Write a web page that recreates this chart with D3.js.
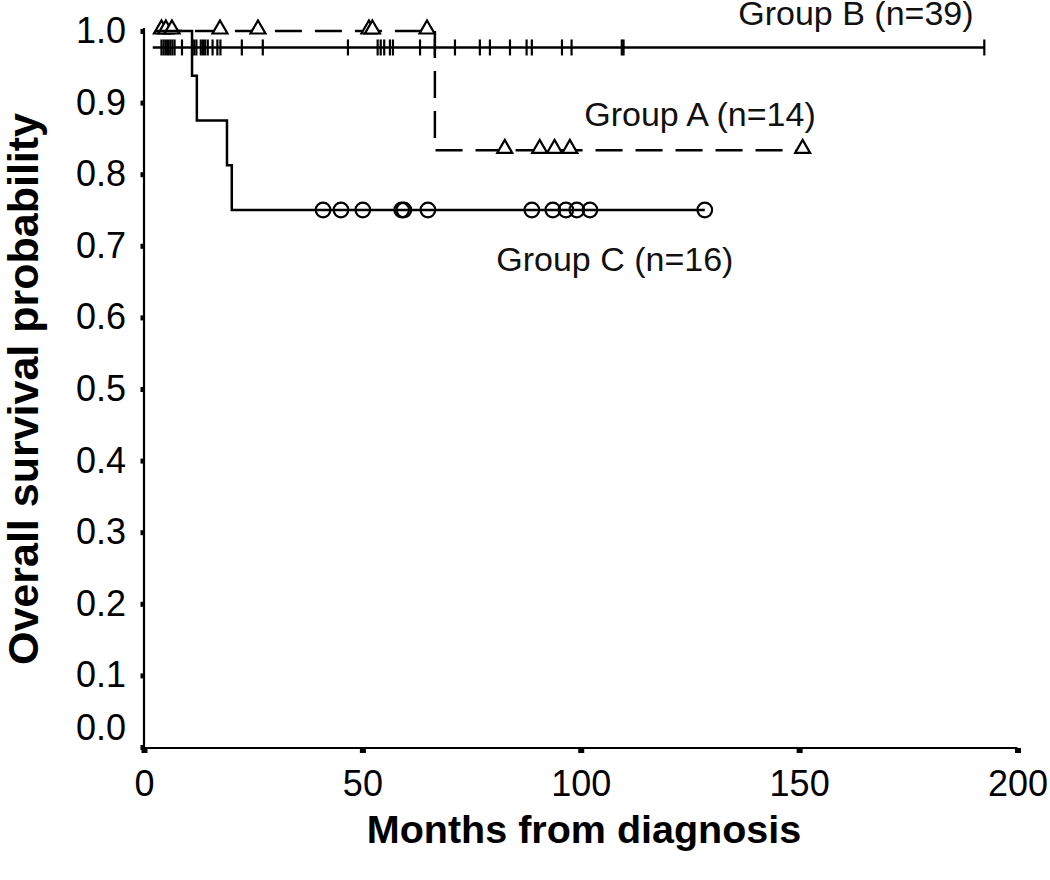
<!DOCTYPE html>
<html>
<head>
<meta charset="utf-8">
<script src="https://cdn.jsdelivr.net/npm/d3@7/dist/d3.min.js"></script>
<style>
  html, body { margin: 0; padding: 0; background: #fff; }
  svg { display: block; font-family: "Liberation Sans", Arial, sans-serif; }
</style>
</head>
<body>
<svg id="chart" width="1050" height="880"></svg>
<script>
// ---- data (months, survival probability) ----
const xTicks = [0, 50, 100, 150, 200];
const yTicks = [0, 0.1, 0.2, 0.3, 0.4, 0.5, 0.6, 0.7, 0.8, 0.9, 1.0];

// Group A (n=14): one death, triangles = censored
const groupAStart = 2.5;
const groupAEnd = 150.8;
const groupADeaths = [{t: 66.6, s: 0.8333}];
const groupACensored = [4.0, 5.0, 6.4, 17.4, 26.1, 51.5, 52.3, 64.8, 82.6, 90.6, 94.0, 97.5, 150.8];

// Group B (n=39): no deaths, tick marks = censored (drawn just below 1.0)
const groupBLevel = 0.977;
const groupBStart = 2.0;
const groupBEnd = 192.4;
const groupBCensored = [4.0, 4.5, 5.0, 5.5, 6.0, 6.5, 7.0, 8.7, 11.0, 11.5, 12.0, 13.0, 13.5, 14.0, 14.6,
  15.7, 16.8, 17.5, 22.4, 27.2, 46.7, 53.5, 54.2, 55.0, 56.3, 57.0, 63.2, 66.6, 71.2, 76.9, 79.2,
  83.8, 87.6, 88.8, 95.7, 97.9, 109.4, 109.8, 192.4];

// Group C (n=16): four deaths, circles = censored
const groupCStart = 2.5;
const groupCEnd = 128.4;
const groupCDeaths = [{t: 11.0, s: 0.9375}, {t: 12.1, s: 0.875}, {t: 19.0, s: 0.8125}, {t: 20.1, s: 0.75}];
const groupCCensored = [41.0, 45.1, 50.1, 59.0, 59.5, 65.0, 88.8, 93.6, 96.6, 99.1, 102.1, 128.4];

const labels = [
  {text: "Group B (n=39)", t: 163, s: 1.0, dy: -6},
  {text: "Group A (n=14)", t: 127.3, s: 0.9, dy: 23},
  {text: "Group C (n=16)", t: 107.8, s: 0.7, dy: 25}
];

// ---- layout ----
const svg = d3.select("#chart");
const x = d3.scaleLinear().domain([0, 200]).range([144, 1017.5]);
const y = d3.scaleLinear().domain([0, 1]).range([747, 31]);

function kmPoints(start, end, level, deaths) {
  const pts = [[start, level]];
  let cur = level;
  deaths.forEach(d => { pts.push([d.t, cur]); pts.push([d.t, d.s]); cur = d.s; });
  pts.push([end, cur]);
  return pts;
}
function levelAt(deaths, start, t) {
  let s = start;
  deaths.forEach(d => { if (t >= d.t) s = d.s; });
  return s;
}
const line = d3.line().x(d => x(d[0])).y(d => y(d[1]));

// ---- axes ----
const yAxis = d3.axisLeft(y).tickValues(yTicks).tickFormat(d3.format(".1f"))
  .tickSizeInner(3).tickSizeOuter(0).tickPadding(15);
const gy = svg.append("g").attr("transform", "translate(144,0)").call(yAxis);
gy.select(".domain").remove();
gy.selectAll(".tick line").attr("stroke", "#000").attr("stroke-width", 5).attr("transform", "translate(-0.5,0)");
gy.selectAll(".tick text").attr("font-size", 36).attr("fill", "#000")
  .filter(d => d === 0).attr("dy", "-0.22em");

const xAxis = d3.axisBottom(x).tickValues(xTicks).tickFormat(d3.format("d"))
  .tickSizeInner(5).tickSizeOuter(0).tickPadding(17);
const gx = svg.append("g").attr("transform", "translate(0,748)").call(xAxis);
gx.select(".domain").remove();
gx.selectAll(".tick line").attr("stroke", "#000").attr("stroke-width", 6);
gx.selectAll(".tick text").attr("font-size", 36).attr("fill", "#000");

svg.append("line").attr("x1", 144).attr("x2", 144).attr("y1", y(1) - 3).attr("y2", 749)
  .attr("stroke", "#000").attr("stroke-width", 2.2);
svg.append("line").attr("x1", 143).attr("x2", x(200)).attr("y1", 748).attr("y2", 748)
  .attr("stroke", "#000").attr("stroke-width", 2.2);

// ---- Group B ----
svg.append("path").attr("d", line([[groupBStart, groupBLevel], [groupBEnd, groupBLevel]]))
  .attr("fill", "none").attr("stroke", "#000").attr("stroke-width", 2.6);
svg.append("g").selectAll("line").data(groupBCensored).join("line")
  .attr("x1", d => x(d)).attr("x2", d => x(d))
  .attr("y1", y(groupBLevel) - 8).attr("y2", y(groupBLevel) + 8)
  .attr("stroke", "#000").attr("stroke-width", 2.2);

// ---- Group A ----
svg.append("path").attr("d", line(kmPoints(groupAStart, groupAEnd, 1, groupADeaths)))
  .attr("fill", "none").attr("stroke", "#000").attr("stroke-width", 2.5)
  .attr("stroke-dasharray", "27,13");
svg.append("g").selectAll("path").data(groupACensored).join("path")
  .attr("d", d => {
    const cx = x(d), cy = y(levelAt(groupADeaths, 1, d));
    return `M${cx},${cy - 10.5}L${cx + 7.5},${cy + 2.5}L${cx - 7.5},${cy + 2.5}Z`;
  })
  .attr("fill", "#fff").attr("stroke", "#000").attr("stroke-width", 2.2);

// ---- Group C ----
svg.append("path").attr("d", line(kmPoints(groupCStart, groupCEnd, 1, groupCDeaths)))
  .attr("fill", "none").attr("stroke", "#000").attr("stroke-width", 2.5);
svg.append("g").selectAll("circle").data(groupCCensored).join("circle")
  .attr("cx", d => x(d)).attr("cy", d => y(levelAt(groupCDeaths, 1, d)))
  .attr("r", 7.3).attr("fill", "none").attr("stroke", "#000").attr("stroke-width", 2.2);

// ---- group labels ----
svg.append("g").selectAll("text").data(labels).join("text")
  .attr("x", d => x(d.t)).attr("y", d => y(d.s) + d.dy)
  .attr("text-anchor", "middle").attr("font-size", 34).attr("fill", "#111")
  .text(d => d.text);

// ---- axis titles ----
svg.append("text").attr("x", 584).attr("y", 843).attr("text-anchor", "middle")
  .attr("font-size", 39.5).attr("font-weight", "bold").text("Months from diagnosis");
svg.append("text").attr("transform", "translate(38,389) rotate(-90)").attr("text-anchor", "middle")
  .attr("font-size", 43).attr("font-weight", "bold").text("Overall survival probability");
</script>
</body>
</html>
